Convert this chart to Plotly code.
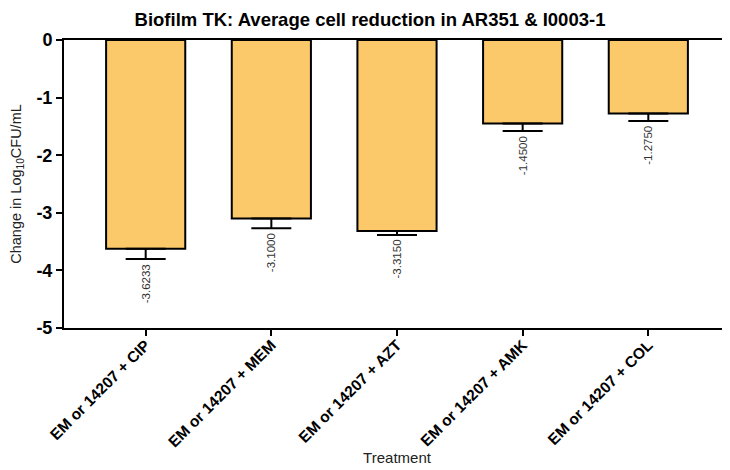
import plotly.graph_objects as go

categories = ["EM or 14207 + CIP", "EM or 14207 + MEM", "EM or 14207 + AZT",
              "EM or 14207 + AMK", "EM or 14207 + COL"]
values = [-3.6233, -3.1000, -3.3150, -1.4500, -1.2750]
errors = [0.18, 0.17, 0.07, 0.13, 0.13]
value_labels = ["-3.6233", "-3.1000", "-3.3150", "-1.4500", "-1.2750"]
yticks = [0, -1, -2, -3, -4, -5]

FONT = "Liberation Sans, Arial"

fig = go.Figure()
fig.add_trace(go.Bar(
    x=categories, y=values, width=0.63,
    marker=dict(color="#FCC96A", line=dict(color="black", width=2)),
    error_y=dict(type="data", symmetric=False, array=[0] * len(errors),
                 arrayminus=errors, color="black", thickness=2, width=20),
    hoverinfo="skip",
))

for c, v, e, t in zip(categories, values, errors, value_labels):
    fig.add_annotation(x=c, y=v - e, text=t, textangle=-90, showarrow=False,
                       xanchor="center", yanchor="top", yshift=-3,
                       font=dict(family=FONT, size=11.5, color="#333333"))

fig.update_layout(
    width=730, height=470,
    margin=dict(l=56, r=8, t=32, b=150, autoexpand=False),
    plot_bgcolor="white", paper_bgcolor="white",
    showlegend=False,
    title=dict(text="<b>Biofilm TK: Average cell reduction in AR351 & I0003-1</b>",
               x=362 / 730, xanchor="center", y=1 - 5 / 470, yanchor="top",
               pad=dict(t=0, b=0), automargin=False,
               font=dict(family=FONT, size=18.5, color="black")),
    xaxis=dict(
        range=[-0.65, 4.65], showline=True, linecolor="black", linewidth=2,
        mirror=True, ticks="outside", ticklen=6, tickwidth=2, tickcolor="black",
        tickangle=-45, showgrid=False, automargin=False, ticklabelstandoff=-6,
        tickfont=dict(family=FONT, size=15.5, color="black", weight="bold"),
        title=dict(text="Treatment", standoff=0,
                   font=dict(family=FONT, size=15, color="#222222")),
    ),
    yaxis=dict(
        range=[-5, 0], tickvals=yticks, ticktext=[str(t) for t in yticks],
        showline=True, linecolor="black", linewidth=2, ticks="outside",
        ticklen=6, tickwidth=2, tickcolor="black", showgrid=False, zeroline=False,
        automargin=False,
        tickfont=dict(family=FONT, size=18, color="black", weight="bold"),
        title=dict(text="Change in Log<sub>10</sub>CFU/mL", standoff=18,
                   font=dict(family=FONT, size=14.5, color="#222222")),
    ),
)

fig.write_html("out.html")
